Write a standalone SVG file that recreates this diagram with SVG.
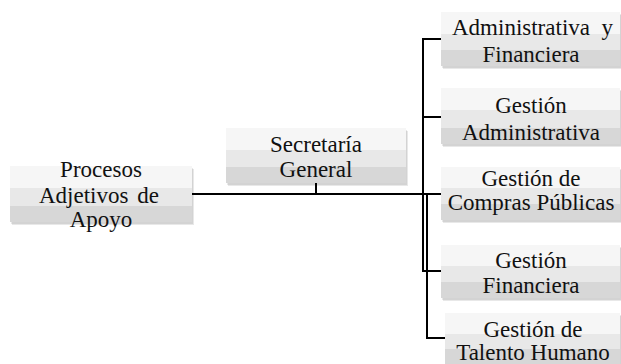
<svg xmlns="http://www.w3.org/2000/svg" width="621" height="364" viewBox="0 0 621 364">
  <rect width="621" height="364" fill="#fff"/>

  <g id="connectors" stroke="#000" stroke-width="2" fill="none">
    <path d="M192 194 H441"/>
    <path d="M316 183 V194"/>
    <path d="M441 39 H423 V271 H441"/>
    <path d="M423 117 H441"/>
    <path d="M427 194 V338 H445"/>
  </g>

  <g id="shadows" fill="#000" fill-opacity="0.09">
    <rect x="12" y="169" width="182" height="56"/>
    <rect x="11" y="168" width="182" height="56"/>
    <rect x="228" y="131" width="180" height="55"/>
    <rect x="227" y="130" width="180" height="55"/>
    <rect x="443" y="15" width="179" height="54"/>
    <rect x="442" y="14" width="179" height="54"/>
    <rect x="443" y="91" width="179" height="56"/>
    <rect x="442" y="90" width="179" height="56"/>
    <rect x="443" y="170" width="179" height="53"/>
    <rect x="442" y="169" width="179" height="53"/>
    <rect x="443" y="248" width="179" height="53"/>
    <rect x="442" y="247" width="179" height="53"/>
    <rect x="447" y="316" width="175" height="52"/>
    <rect x="446" y="315" width="175" height="52"/>
  </g>

  <g id="boxes" fill="#e8e8e8">
    <rect x="10" y="166" width="182" height="56"/>
    <rect x="226" y="128" width="180" height="55"/>
    <rect x="441" y="12" width="179" height="54"/>
    <rect x="441" y="88" width="179" height="56"/>
    <rect x="441" y="167" width="179" height="53"/>
    <rect x="441" y="245" width="179" height="53"/>
    <rect x="445" y="313" width="175" height="52"/>
  </g>
  <g id="box-highlights" fill="#fff" fill-opacity="0.6">
    <rect x="10" y="166" width="182" height="22"/>
    <rect x="226" y="128" width="180" height="22"/>
    <rect x="441" y="12" width="179" height="22"/>
    <rect x="441" y="88" width="179" height="22"/>
    <rect x="441" y="167" width="179" height="21"/>
    <rect x="441" y="245" width="179" height="21"/>
    <rect x="445" y="313" width="175" height="21"/>
  </g>
  <g id="box-lowlights" fill="#000" fill-opacity="0.07">
    <rect x="10" y="206" width="182" height="16"/>
    <rect x="226" y="167" width="180" height="16"/>
    <rect x="441" y="50" width="179" height="16"/>
    <rect x="441" y="128" width="179" height="16"/>
    <rect x="441" y="204" width="179" height="16"/>
    <rect x="441" y="282" width="179" height="16"/>
    <rect x="445" y="349" width="175" height="16"/>
  </g>

  <text font-family="Liberation Serif" font-size="23" fill="#111" x="101" y="177" text-anchor="middle">Procesos</text>
  <text font-family="Liberation Serif" font-size="23" fill="#111" x="39" y="203">Adjetivos</text>
  <text font-family="Liberation Serif" font-size="23" fill="#111" x="159" y="203" text-anchor="end">de</text>
  <text font-family="Liberation Serif" font-size="23" fill="#111" x="101" y="227" text-anchor="middle">Apoyo</text>
  <text font-family="Liberation Serif" font-size="23" fill="#111" x="316" y="152" text-anchor="middle">Secretaría</text>
  <text font-family="Liberation Serif" font-size="23" fill="#111" x="316" y="177" text-anchor="middle">General</text>
  <text font-family="Liberation Serif" font-size="23" fill="#111" x="452" y="35">Administrativa</text>
  <text font-family="Liberation Serif" font-size="23" fill="#111" x="613" y="35" text-anchor="end">y</text>
  <text font-family="Liberation Serif" font-size="23" fill="#111" x="531" y="62" text-anchor="middle">Financiera</text>
  <text font-family="Liberation Serif" font-size="23" fill="#111" x="531" y="113" text-anchor="middle">Gestión</text>
  <text font-family="Liberation Serif" font-size="23" fill="#111" x="531" y="140" text-anchor="middle">Administrativa</text>
  <text font-family="Liberation Serif" font-size="23" fill="#111" x="531" y="186" text-anchor="middle">Gestión de</text>
  <text font-family="Liberation Serif" font-size="23" fill="#111" x="531" y="210" text-anchor="middle">Compras Públicas</text>
  <text font-family="Liberation Serif" font-size="23" fill="#111" x="531" y="268" text-anchor="middle">Gestión</text>
  <text font-family="Liberation Serif" font-size="23" fill="#111" x="531" y="293" text-anchor="middle">Financiera</text>
  <text font-family="Liberation Serif" font-size="23" fill="#111" x="533" y="337" text-anchor="middle">Gestión de</text>
  <text font-family="Liberation Serif" font-size="23" fill="#111" x="533" y="360" text-anchor="middle">Talento Humano</text>
</svg>
